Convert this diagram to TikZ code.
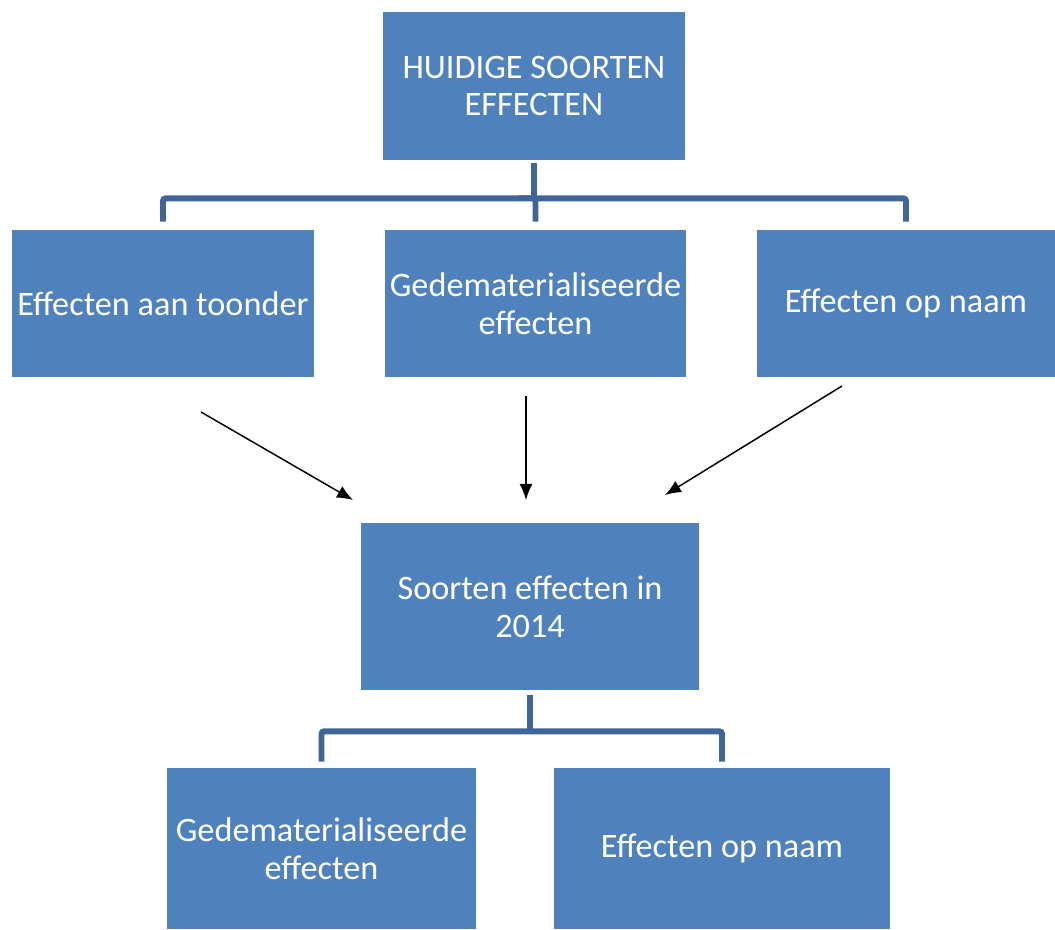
\documentclass[tikz,border=0pt]{standalone}
\usepackage{fontspec}
\setmainfont{Carlito}
\usetikzlibrary{arrows.meta}
\definecolor{boxblue}{RGB}{79,129,189}
\definecolor{treeblue}{RGB}{64,102,152}
\begin{document}
\begin{tikzpicture}[font=\fontsize{19.5}{21.6}\selectfont]
    \tikzset{box/.style={rectangle,fill=boxblue,text=white,align=center,inner sep=0pt},
             tree/.style={treeblue,line width=3.4pt,rounded corners=1.5pt},
             arr/.style={black,line width=0.85pt,-{Latex[length=3.2mm,width=2.6mm]}}}
    \useasboundingbox (0,0) rectangle (21.1,18.58);

    % Level 0 - current kinds
    \node[box, minimum width=6.04cm, minimum height=2.96cm] (top) at (10.68, 16.86) {HUIDIGE SOORTEN\\EFFECTEN};

    % Level 1 - three kinds
    \node[box, minimum width=6.04cm, minimum height=2.94cm] (r1l) at (3.26, 12.51) {Effecten aan toonder};
    \node[box, minimum width=6.02cm, minimum height=2.94cm] (r1m) at (10.71, 12.51) {Gedematerialiseerde\\effecten};
    \node[box, minimum width=5.96cm, minimum height=2.94cm] (r1r) at (18.12, 12.51) {Effecten op naam};

    % Tree from top box to level 1
    \draw[tree, shorten <=0.06cm] (top.south) -- ++(0,-0.76) coordinate (hub1);
    \draw[tree, shorten >=0.16cm] (hub1) -| (r1l.north);
    \draw[tree, shorten >=0.16cm] (hub1) -| (r1m.north);
    \draw[tree, shorten >=0.16cm] (hub1) -| (r1r.north);

    % Level 2 - kinds in 2014
    \node[box, minimum width=6.76cm, minimum height=3.34cm] (mid) at (10.6, 6.45) {Soorten effecten in\\2014};

    % Arrows from level 1 into the 2014 box
    \coordinate (a1s) at (4.02, 10.34);  \coordinate (a1e) at (7.06, 8.58);
    \coordinate (a2s) at (10.52, 10.66); \coordinate (a2e) at (10.52, 8.58);
    \coordinate (a3s) at (16.84, 10.86); \coordinate (a3e) at (13.3, 8.68);
    \draw[arr] (a1s) -- (a1e);
    \draw[arr] (a2s) -- (a2e);
    \draw[arr] (a3s) -- (a3e);

    % Level 3 - remaining kinds
    \node[box, minimum width=6.18cm, minimum height=3.22cm] (b1) at (6.43, 1.61) {Gedematerialiseerde\\effecten};
    \node[box, minimum width=6.72cm, minimum height=3.22cm] (b2) at (14.44, 1.61) {Effecten op naam};

    % Tree from 2014 box to level 3
    \draw[tree, shorten <=0.1cm] (mid.south) -- ++(0,-0.82) coordinate (hub2);
    \draw[tree, shorten >=0.12cm] (hub2) -| (b1.north);
    \draw[tree, shorten >=0.12cm] (hub2) -| (b2.north);

\end{tikzpicture}
\end{document}
